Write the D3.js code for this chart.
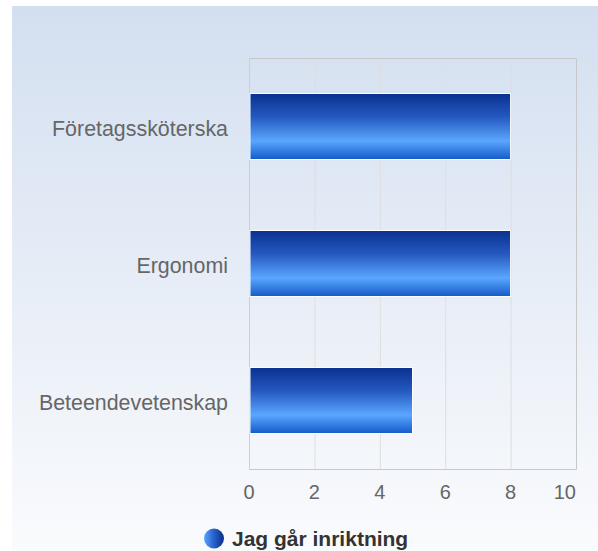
<!DOCTYPE html>
<html><head><meta charset="utf-8">
<script src="https://cdn.jsdelivr.net/npm/d3@7"></script>
<style>html,body{margin:0;padding:0;background:#fff;}svg{display:block;}</style>
</head><body>
<svg id="chart" width="598" height="551"></svg>
<script>
const categories = ["Företagssköterska", "Ergonomi", "Beteendevetenskap"];
const values = [8, 8, 5];
const seriesName = "Jag går inriktning";
const xTicks = [0, 2, 4, 6, 8, 10];

const svg = d3.select("#chart");
const defs = svg.append("defs");

const bg = defs.append("linearGradient").attr("id","bg").attr("x1",0).attr("y1",0).attr("x2",0).attr("y2",1);
bg.append("stop").attr("offset","0%").attr("stop-color","#d3dff0");
bg.append("stop").attr("offset","100%").attr("stop-color","#fafbfd");

const bar = defs.append("linearGradient").attr("id","bar").attr("x1",0).attr("y1",0).attr("x2",0).attr("y2",1);
bar.append("stop").attr("offset","0%").attr("stop-color","#0a3190");
bar.append("stop").attr("offset","35%").attr("stop-color","#2458be");
bar.append("stop").attr("offset","72%").attr("stop-color","#5aa6ff");
bar.append("stop").attr("offset","100%").attr("stop-color","#135ac8");

const leg = defs.append("linearGradient").attr("id","leg").attr("x1",0).attr("y1",0).attr("x2",1).attr("y2",0);
leg.append("stop").attr("offset","0%").attr("stop-color","#5aa6ff");
leg.append("stop").attr("offset","45%").attr("stop-color","#2a66d0");
leg.append("stop").attr("offset","100%").attr("stop-color","#0a2d8a");

svg.append("rect").attr("x",12).attr("y",6).attr("width",586).attr("height",545).attr("fill","url(#bg)");

const L = 249, R = 576, T = 58, B = 469;
const x = d3.scaleLinear().domain([0,10]).range([L,R]);
const y = d3.scaleBand().domain(categories).range([T,B]).paddingInner(0.518).paddingOuter(0.259);

// grid
svg.append("g").selectAll("line").data(xTicks.slice(1,-1)).join("line")
  .attr("x1",d=>x(d)+0.5).attr("x2",d=>x(d)+0.5).attr("y1",T).attr("y2",B)
  .attr("stroke","#dedede").attr("stroke-width",1);

// plot border
svg.append("path").attr("d",`M${L},${T+0.5}H${R+0.5}V${B+0.5}H${L}`)
  .attr("fill","none").attr("stroke","#c8c8c8").attr("stroke-width",1);
svg.append("line").attr("x1",L+0.5).attr("x2",L+0.5).attr("y1",T).attr("y2",B+1)
  .attr("stroke","#c6d0e2").attr("stroke-width",1);

// bars
svg.append("g").selectAll("rect").data(values).join("rect")
  .attr("x",x(0)+1).attr("y",(d,i)=>y(categories[i]))
  .attr("width",d=>x(d)-x(0)-1).attr("height",y.bandwidth())
  .attr("fill","url(#bar)").attr("stroke","#fff").attr("stroke-width",1);

// y labels
svg.append("g").selectAll("text").data(categories).join("text")
  .attr("x",228).attr("y",d=>y(d)+y.bandwidth()/2+9)
  .attr("text-anchor","end").attr("font-family","Liberation Sans, Arial, sans-serif")
  .attr("font-size",21.4).attr("fill","#666").text(d=>d);

// x tick labels
svg.append("g").selectAll("text").data(xTicks).join("text")
  .attr("x",d=>x(d))
  .attr("y",499)
  .attr("text-anchor",(d,i)=> i===xTicks.length-1 ? "end" : "middle")
  .attr("font-family","Liberation Sans, Arial, sans-serif")
  .attr("font-size",20).attr("fill","#666").text(d=>d);

// legend
svg.append("circle").attr("cx",214).attr("cy",538.5).attr("r",10).attr("fill","url(#leg)");
svg.append("text").attr("x",232).attr("y",545.5)
  .attr("font-family","Liberation Sans, Arial, sans-serif").attr("font-weight","bold")
  .attr("font-size",21).attr("fill","#333").text(seriesName);
</script>
</body></html>
